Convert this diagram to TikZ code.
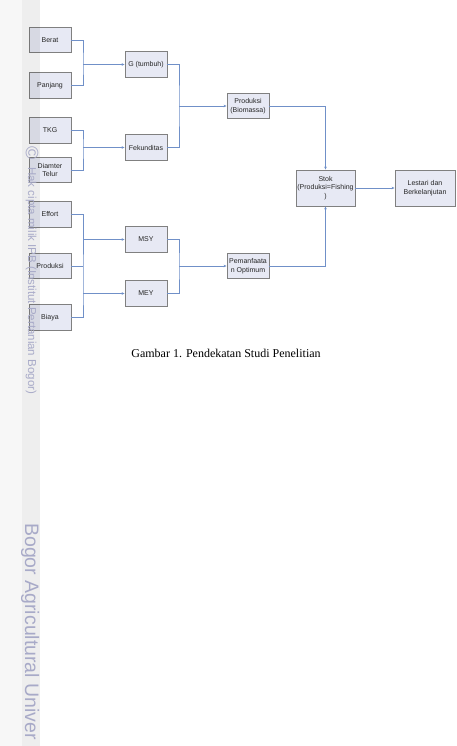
\documentclass[tikz,border=0pt]{standalone}
\usepackage{fontspec}
\setmainfont{Liberation Serif}
\setsansfont{Liberation Sans}
\usetikzlibrary{arrows.meta}
\definecolor{boxfill}{HTML}{E7E9F4}
\definecolor{boxline}{HTML}{808080}
\definecolor{connc}{HTML}{7090C8}
\definecolor{wm}{HTML}{A8AAC8}
\begin{document}
\begin{tikzpicture}[x=1pt,y=-1pt,
  box/.style={draw=boxline, fill=boxfill, line width=0.9pt, inner sep=0pt,
    minimum width=42pt, minimum height=25.5pt, align=center,
    font=\sffamily\fontsize{7}{8.8}\selectfont, text=black!85},
  conn/.style={draw=connc, line width=0.7pt},
  arr/.style={conn, -{Stealth[length=3pt,width=2.6pt]}},
  wmtext/.style={text=wm, inner sep=0pt, rotate=-90, anchor=base west},
]
\useasboundingbox (0,0) rectangle (456,746);
\fill[white] (0,0) rectangle (456,746);

% left column
\node[box] (berat) at (50,40) {Berat};
\node[box] (panjang) at (50,85.5) {Panjang};
\node[box] (tkg) at (50,130.5) {TKG};
\node[box] (diamter) at (50,170) {Diamter\\Telur};
\node[box] (effort) at (50,214.5) {Effort};
\node[box] (produksi) at (50,266) {Produksi};
\node[box] (biaya) at (50,317.5) {Biaya};

% second column
\node[box] (g) at (146,64.5) {G (tumbuh)};
\node[box] (fek) at (146,147.5) {Fekunditas};
\node[box] (msy) at (146,239.5) {MSY};
\node[box] (mey) at (146,293.5) {MEY};

% third column
\node[box] (bio) at (248,106) {Produksi\\(Biomassa)};
\node[box] (pem) at (248,266) {Pemanfaata\\n Optimum};

% right
\node[box, minimum width=59pt, minimum height=36pt] (stok) at (325.5,188) {Stok\\(Produksi=Fishing\\)};
\node[box, minimum width=60pt, minimum height=36pt] (lestari) at (425,188) {Lestari dan\\Berkelanjutan};

% connectors
\coordinate (j1) at (83,64.5);
\draw[conn] (berat.east) -| (j1) |- (panjang.east);
\draw[arr] (j1) -- (g.west);

\coordinate (j2) at (83,147.5);
\draw[conn] (tkg.east) -| (j2) |- (diamter.east);
\draw[arr] (j2) -- (fek.west);

\coordinate (j3a) at (83,239.5);
\coordinate (j3b) at (83,293.5);
\draw[conn] (effort.east) -| (j3b) |- (biaya.east);
\draw[conn] (produksi.east) -- (produksi.east -| j3a);
\draw[arr] (j3a) -- (msy.west);
\draw[arr] (j3b) -- (mey.west);

\coordinate (j4) at (179,106);
\draw[conn] (g.east) -| (j4) |- (fek.east);
\draw[arr] (j4) -- (bio.west);

\coordinate (j5) at (179,266);
\draw[conn] (msy.east) -| (j5) |- (mey.east);
\draw[arr] (j5) -- (pem.west);

\draw[arr] (bio.east) -| (stok.north);
\draw[arr] (pem.east) -| (stok.south);
\draw[arr] (stok.east) -- (lestari.west);

% caption
\node[font=\fontsize{12}{14}\selectfont, anchor=base, inner sep=0pt] (cap) at (226,357) {Gambar 1. Pendekatan Studi Penelitian};

% watermark strip (over the picture)
\fill[black, fill opacity=0.03] (0,0) rectangle (22,746);
\fill[black, fill opacity=0.065] (22,0) rectangle (40,746);
\node[text=wm, inner sep=0pt, rotate=-90, font=\sffamily\fontsize{18}{18}\selectfont] (copy) at (32,153) {©};
\node[wmtext, font=\sffamily\fontsize{11.5}{12}\selectfont] (wm1) at (28,167) {Hak cipta milik IPB (Institut Pertanian Bogor)};
\node[wmtext, font=\sffamily\fontsize{19.5}{20}\selectfont] (wm2) at (25,523) {Bogor Agricultural Univer};
\end{tikzpicture}
\end{document}
